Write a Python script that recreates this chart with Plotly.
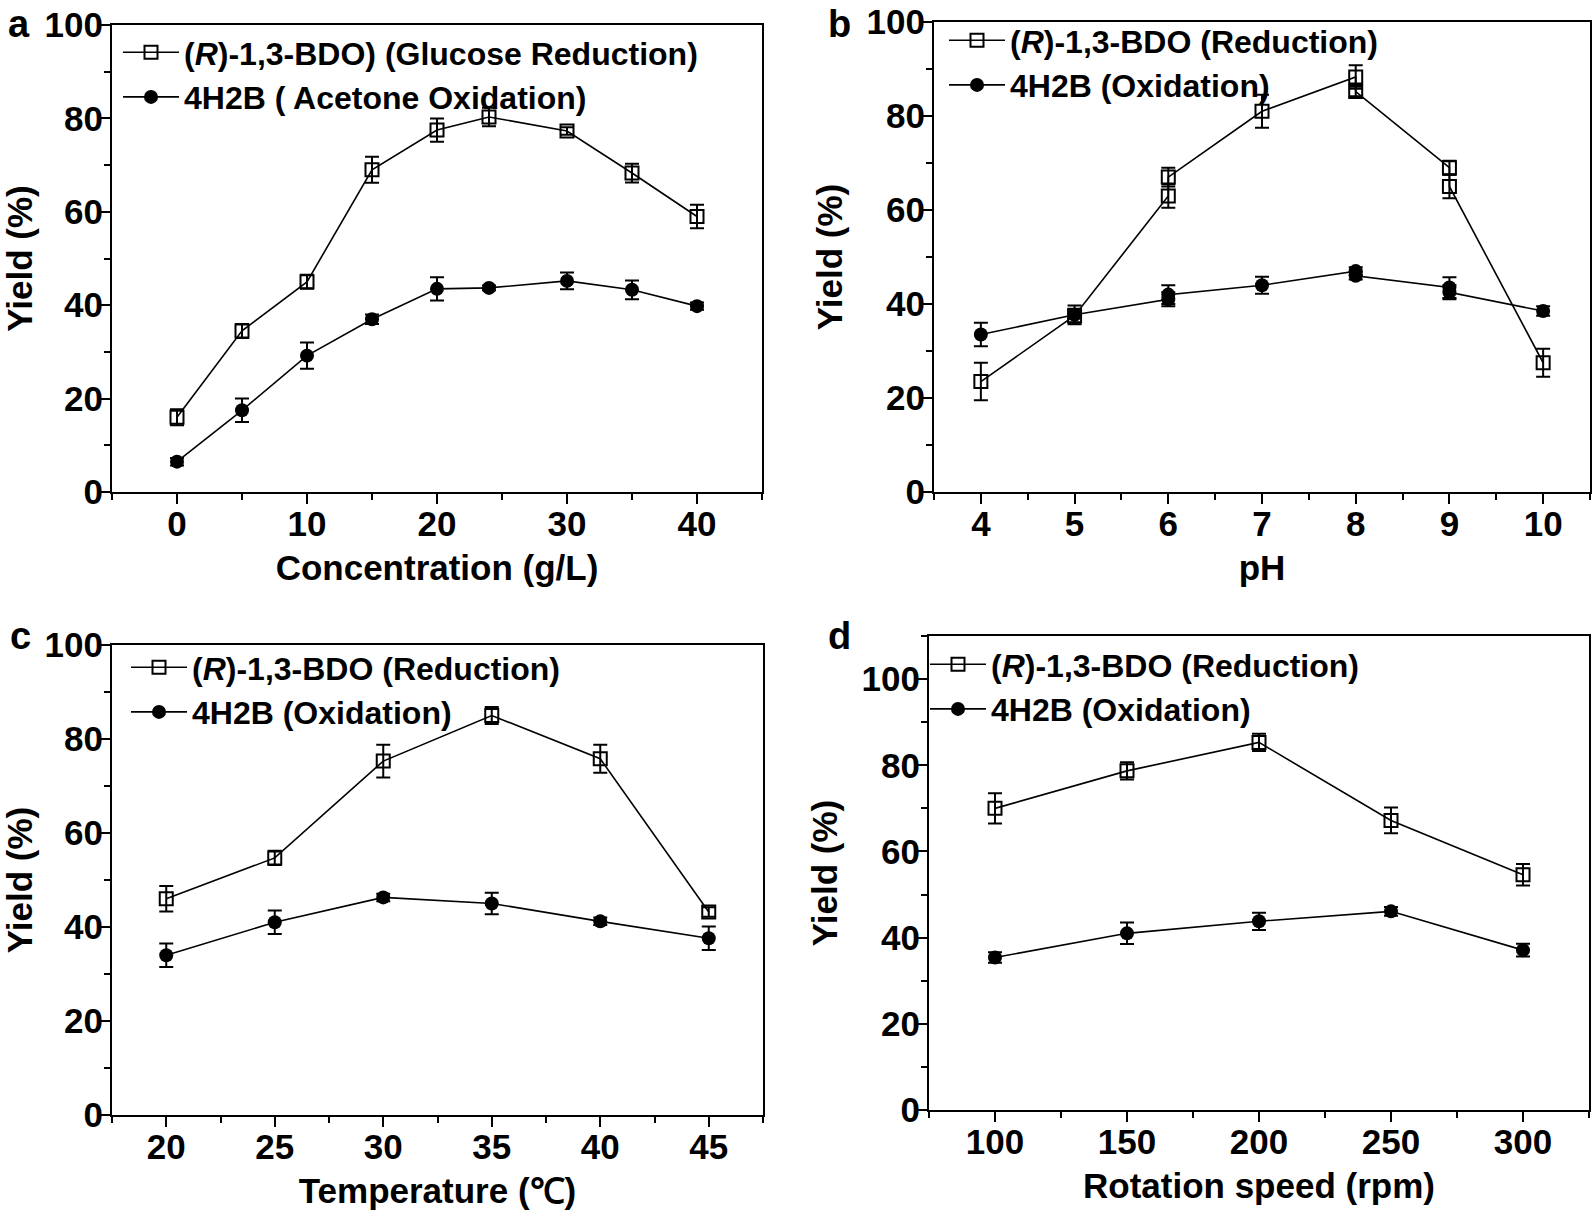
import plotly.graph_objects as go

# panel a - concentration
conc = [0, 5, 10, 15, 20, 24, 30, 35, 40]
a_bdo = [16, 34.5, 45, 69, 77.5, 80.3, 77.3, 68.3, 59]
a_bdo_err = [1.7, 1.5, 1.5, 2.8, 2.5, 2, 0.8, 2, 2.5]
a_h2b = [6.5, 17.5, 29.2, 37, 43.5, 43.7, 45.2, 43.3, 39.8]
a_h2b_err = [0.8, 2.5, 2.8, 1, 2.5, 0.5, 1.8, 2, 0.8]

# panel b - pH (repeated measurements at 6, 8, 9)
ph = [4, 5, 6, 6, 7, 8, 8, 9, 9, 10]
b_bdo = [23.5, 37.5, 63, 67, 81, 88.3, 85.2, 69, 65, 27.5]
b_bdo_err = [4, 1.5, 2.5, 2, 3.5, 2.5, 1, 1.5, 2.5, 3]
b_h2b = [33.5, 37.7, 41, 42, 44, 47, 46, 43.5, 42.5, 38.5]
b_h2b_err = [2.5, 2, 1.5, 2, 1.8, 0.8, 0.8, 2.2, 1.5, 1]

# panel c - temperature
temp = [20, 25, 30, 35, 40, 45]
c_bdo = [46, 54.7, 75.3, 85, 75.8, 43.2]
c_bdo_err = [2.7, 1.5, 3.5, 1.8, 3, 1]
c_h2b = [34, 41, 46.3, 45, 41.2, 37.6]
c_h2b_err = [2.5, 2.5, 0.8, 2.3, 0.8, 2.5]

# panel d - rotation speed
rpm = [100, 150, 200, 250, 300]
d_bdo = [70, 78.7, 85.3, 67.2, 54.6]
d_bdo_err = [3.5, 2, 2, 3, 2.5]
d_h2b = [35.4, 41, 43.8, 46.1, 37.1]
d_h2b_err = [1.2, 2.5, 2, 1, 1.5]

W, H = 1595, 1214
FONT = "Liberation Sans, Arial, sans-serif"

# px/py: plot box in pixels, leg: legend top-left in pixels, lxy: panel letter
panels = [
    dict(x=conc, s=a_bdo, se=a_bdo_err, c=a_h2b, ce=a_h2b_err,
         n1="(<i>R</i>)-1,3-BDO) (Glucose Reduction)", n2="4H2B ( Acetone Oxidation)",
         px=(112, 762), py=(25, 492), xr=[-5, 45], yr=[0, 100],
         xt=[0, 10, 20, 30, 40], xm=(5, -5), xtitle="Concentration (g/L)",
         lab="a", lxy=(6, 24), leg=(118, 25)),
    dict(x=ph, s=b_bdo, se=b_bdo_err, c=b_h2b, ce=b_h2b_err,
         n1="(<i>R</i>)-1,3-BDO (Reduction)", n2="4H2B (Oxidation)",
         px=(934, 1590), py=(22, 492), xr=[3.5, 10.5], yr=[0, 100],
         xt=[4, 5, 6, 7, 8, 9, 10], xm=(0.5, 3.5), xtitle="pH",
         lab="b", lxy=(826, 24), leg=(944, 13)),
    dict(x=temp, s=c_bdo, se=c_bdo_err, c=c_h2b, ce=c_h2b_err,
         n1="(<i>R</i>)-1,3-BDO (Reduction)", n2="4H2B (Oxidation)",
         px=(112, 763), py=(645, 1115), xr=[17.5, 47.5], yr=[0, 100],
         xt=[20, 25, 30, 35, 40, 45], xm=(2.5, 17.5), xtitle="Temperature (℃)",
         lab="c", lxy=(8, 636), leg=(126, 640)),
    dict(x=rpm, s=d_bdo, se=d_bdo_err, c=d_h2b, ce=d_h2b_err,
         n1="(<i>R</i>)-1,3-BDO (Reduction)", n2="4H2B (Oxidation)",
         px=(929, 1589), py=(636, 1110), xr=[75, 325], yr=[0, 110],
         xt=[100, 150, 200, 250, 300], xm=(25, 75), xtitle="Rotation speed (rpm)",
         lab="d", lxy=(826, 636), leg=(925, 637)),
]

fig = go.Figure()
layout = dict(width=W, height=H,
              margin=dict(l=0, r=0, t=0, b=0, autoexpand=False),
              paper_bgcolor="white", plot_bgcolor="white", showlegend=True,
              font=dict(family=FONT, color="black", weight="bold"))
annotations = []

for i, p in enumerate(panels):
    k = "" if i == 0 else str(i + 1)
    xa, ya = "x" + k, "y" + k
    lg = "legend" + k
    fig.add_trace(go.Scatter(
        x=p["x"], y=p["s"], name=p["n1"], mode="lines+markers", xaxis=xa, yaxis=ya, legend=lg,
        line=dict(color="black", width=1.6),
        marker=dict(symbol="square-open", size=13, color="black", line=dict(width=2)),
        error_y=dict(type="data", array=p["se"], color="black", thickness=2, width=7)))
    fig.add_trace(go.Scatter(
        x=p["x"], y=p["c"], name=p["n2"], mode="lines+markers", xaxis=xa, yaxis=ya, legend=lg,
        line=dict(color="black", width=1.6),
        marker=dict(symbol="circle", size=14, color="black"),
        error_y=dict(type="data", array=p["ce"], color="black", thickness=2, width=7)))

    x0, x1 = p["px"]
    y0, y1 = p["py"]
    dx = [x0 / W, x1 / W]
    dy = [1 - y1 / H, 1 - y0 / H]
    axis_common = dict(showline=True, linecolor="black", linewidth=2, mirror=True,
                       showgrid=False, zeroline=False, ticks="outside", ticklen=10,
                       tickwidth=2, tickcolor="black", ticklabelstandoff=-10,
                       tickfont=dict(family=FONT, size=35, color="black", weight="bold"))
    layout["xaxis" + k] = dict(axis_common, domain=dx, range=p["xr"], anchor=ya,
                               tickvals=p["xt"],
                               minor=dict(ticks="outside", ticklen=6, tickwidth=2,
                                          tickcolor="black", dtick=p["xm"][0], tick0=p["xm"][1]),
                               title=dict(text=p["xtitle"], standoff=13,
                                          font=dict(family=FONT, size=35, weight="bold")))
    layout["yaxis" + k] = dict(axis_common, domain=dy, range=p["yr"], anchor=xa,
                               dtick=20, tick0=0,
                               minor=dict(ticks="outside", ticklen=6, tickwidth=2,
                                          tickcolor="black", dtick=10, tick0=0),
                               title=dict(text="Yield (%)", standoff=13,
                                          font=dict(family=FONT, size=35, weight="bold")))
    layout[lg] = dict(x=p["leg"][0] / W, y=1 - p["leg"][1] / H, xanchor="left", yanchor="top",
                      bgcolor="rgba(0,0,0,0)", borderwidth=0, itemwidth=56,
                      tracegroupgap=0,
                      font=dict(family=FONT, size=32, color="black", weight="bold"))
    annotations.append(dict(text=p["lab"], x=p["lxy"][0] / W, y=1 - p["lxy"][1] / H,
                            xref="paper", yref="paper",
                            xanchor="left", yanchor="middle", showarrow=False,
                            font=dict(family=FONT, size=38, color="black", weight="bold")))

layout["annotations"] = annotations
fig.update_layout(**layout)
# page body has a default 8px margin; drop it so the figure sits at the corner
fig.write_html("out.html", config={"displayModeBar": False},
               post_script="document.body.style.margin='0';")
